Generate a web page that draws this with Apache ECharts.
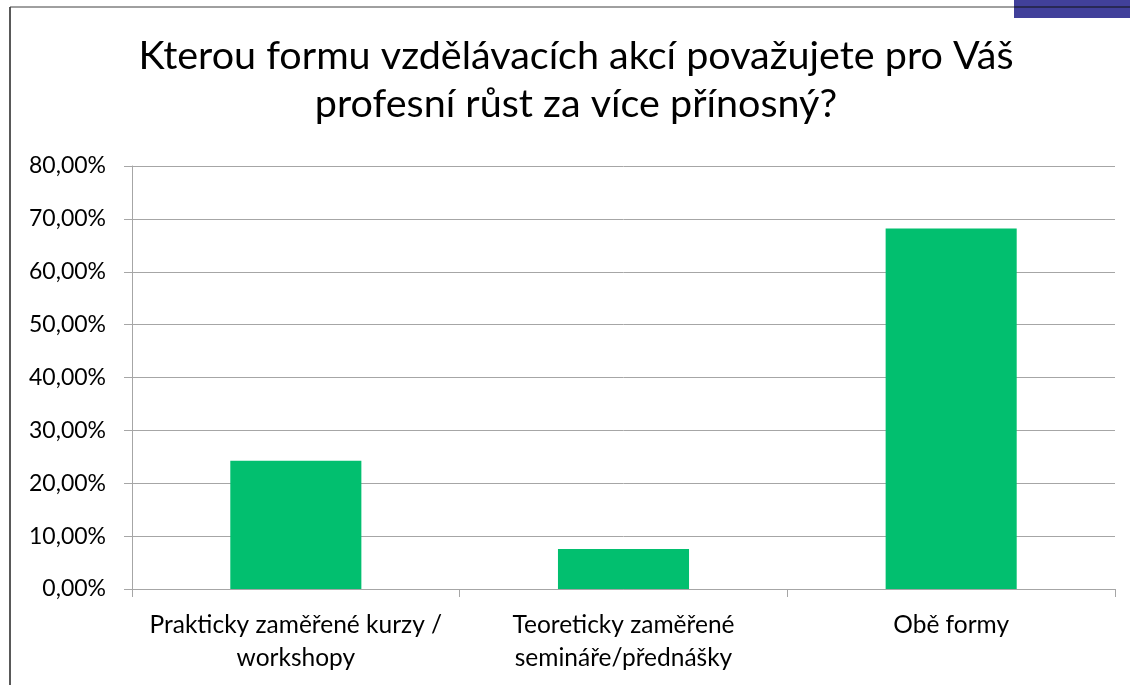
<!DOCTYPE html>
<html>
<head>
<meta charset="utf-8">
<script src="https://cdn.jsdelivr.net/npm/echarts@6/dist/echarts.min.js"></script>
<style>
  html, body { margin: 0; padding: 0; background: #fff; }
  #main { width: 1130px; height: 685px; }
</style>
</head>
<body>
<div id="main"></div>
<script>
// data
const categories = ['Prakticky zaměřené kurzy /\nworkshopy', 'Teoreticky zaměřené\nsemináře/přednášky', 'Obě formy'];
const shares = [24.24, 7.58, 68.18];
const yTicks = { min: 0, max: 80, step: 10 };
const titleText = 'Kterou formu vzdělávacích akcí považujete pro Váš\nprofesní růst za více přínosný?';

const chart = echarts.init(document.getElementById('main'));

const option = {
  backgroundColor: '#fff',
  animation: false,
  grid: { left: 132, right: 15, top: 166, bottom: 96 },
  xAxis: {
    type: 'category',
    data: categories,
    axisLine: { lineStyle: { color: '#a6a6a6', width: 1 } },
    axisTick: { show: true, length: 8, lineStyle: { color: '#a6a6a6' } },
    axisLabel: { fontFamily: 'Lato', fontSize: 24.5, color: '#000', lineHeight: 33, margin: 20, interval: 0 }
  },
  yAxis: {
    type: 'value',
    min: yTicks.min,
    max: yTicks.max,
    interval: yTicks.step,
    axisLine: { show: true, lineStyle: { color: '#a6a6a6' } },
    axisTick: { show: true, length: 8, lineStyle: { color: '#a6a6a6' } },
    splitLine: { lineStyle: { color: '#a6a6a6' } },
    axisLabel: {
      fontFamily: 'Lato', fontSize: 23, color: '#000', margin: 26,
      formatter: v => v.toFixed(2).replace('.', ',') + '%'
    }
  },
  series: [{
    type: 'bar',
    data: shares,
    barWidth: '40%',
    itemStyle: { color: '#02bf6f' }
  }],
  graphic: [
    // title, centred a bit right of the page middle like in the original
    {
      type: 'text', x: 576, y: 32,
      style: {
        text: titleText, fill: '#000', font: '39.5px Lato',
        textAlign: 'center', textVerticalAlign: 'top', lineHeight: 48
      }
    },
    // frame of the original slide
    { type: 'line', shape: { x1: 10, y1: 7, x2: 10, y2: 685 }, style: { stroke: '#595959', lineWidth: 2 } },
    { type: 'line', shape: { x1: 10, y1: 7, x2: 1130, y2: 7 }, style: { stroke: '#404040', lineWidth: 1 } },
    { type: 'rect', shape: { x: 1014, y: 0, width: 116, height: 18 }, style: { fill: '#41409a' } },
    { type: 'line', shape: { x1: 1014, y1: 7, x2: 1130, y2: 7 }, style: { stroke: '#111', lineWidth: 1 } }
  ]
};

chart.setOption(option);
</script>
</body>
</html>
